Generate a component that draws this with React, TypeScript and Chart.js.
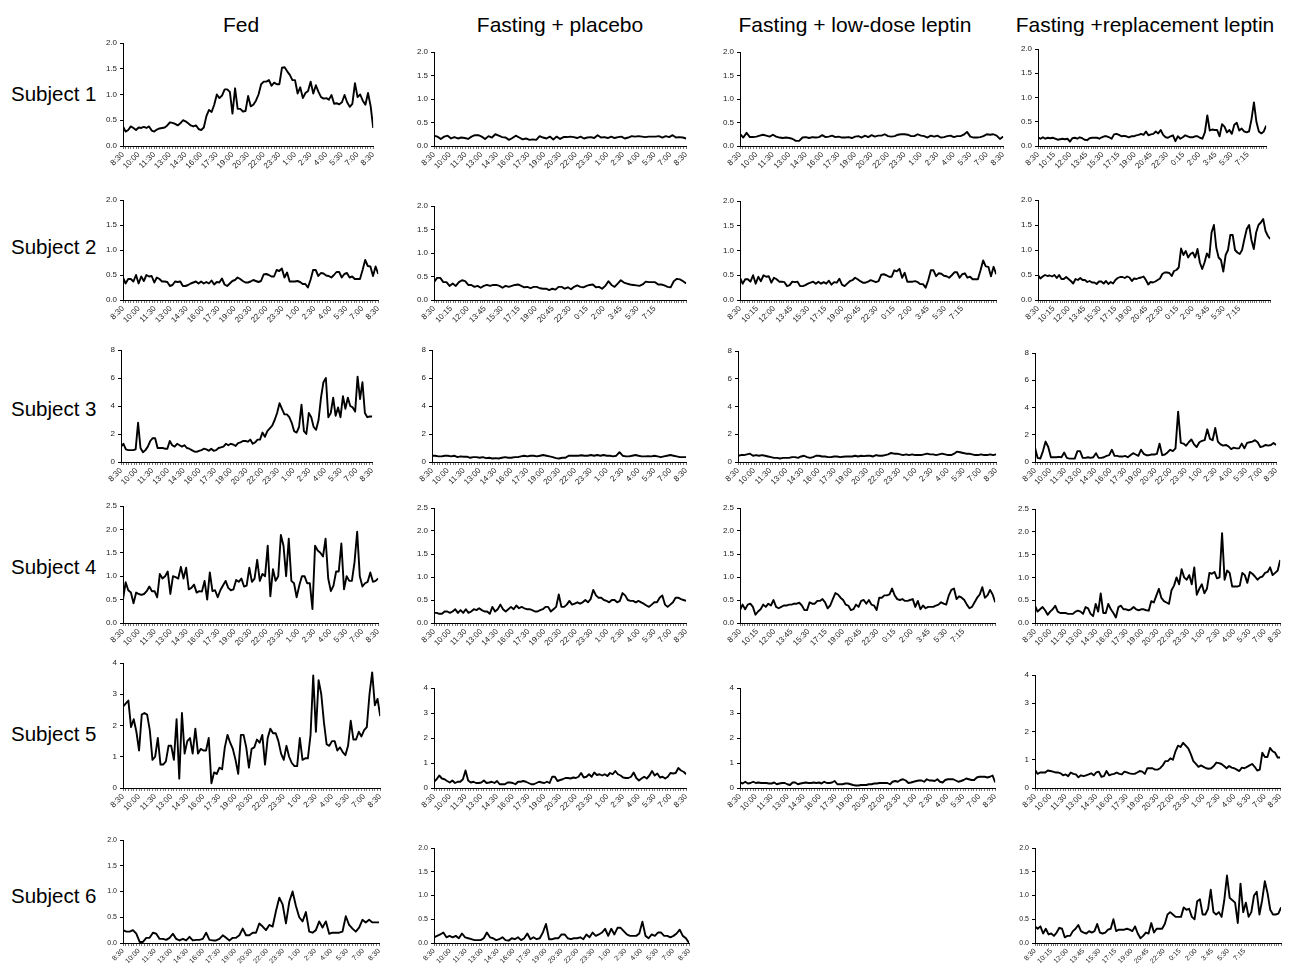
import React, { useEffect, useRef } from "react";
import { Chart, registerables } from "chart.js";
Chart.register(...registerables);

// ---- tick labels ----
const times90 = ["8:30","10:00","11:30","13:00","14:30","16:00","17:30","19:00","20:30","22:00","23:30","1:00","2:30","4:00","5:30","7:00","8:30"];
const times105 = ["8:30","10:15","12:00","13:45","15:30","17:15","19:00","20:45","22:30","0:15","2:00","3:45","5:30","7:15"];

const conditions = ["Fed", "Fasting + placebo", "Fasting + low-dose leptin", "Fasting +replacement leptin"];
const subjects = ["Subject 1", "Subject 2", "Subject 3", "Subject 4", "Subject 5", "Subject 6"];

// ---- series values ----
const s1Fed = [0.38,0.28,0.31,0.38,0.35,0.31, 0.36,0.35,0.37,0.35,0.38,0.30, 0.28,0.32,0.34,0.35,0.36,0.40, 0.46,0.45,0.43,0.40,0.44,0.50, 0.48,0.44,0.40,0.38,0.40,0.33, 0.31,0.36,0.58,0.70,0.66,0.80, 1.00,0.93,0.98,1.10,1.10,1.05, 0.63,1.12,0.72,0.72,0.67,0.68, 0.97,0.77,0.80,0.88,1.00,1.20, 1.25,1.25,1.28,1.17,1.23,1.20, 1.20,1.52,1.53,1.45,1.38,1.28, 1.28,1.02,1.14,0.93,1.03,1.07, 1.25,1.02,1.18,1.05,0.95,0.92, 0.93,0.90,0.99,0.82,0.83,0.81, 0.85,0.99,0.85,0.76,0.82,1.22, 0.95,1.00,0.88,0.80,1.03,0.78, 0.35];
const s1Placebo = [0.22,0.20,0.15,0.20,0.22,0.16,0.19,0.16,0.18,0.17,0.15,0.20,0.23,0.23,0.20,0.15,0.21,0.18,0.25,0.22,0.19,0.18,0.13,0.17,0.22,0.18,0.14,0.16,0.13,0.14,0.13,0.21,0.18,0.16,0.20,0.14,0.20,0.15,0.19,0.19,0.20,0.19,0.17,0.20,0.16,0.18,0.19,0.17,0.23,0.18,0.19,0.17,0.20,0.17,0.19,0.20,0.16,0.18,0.21,0.20,0.21,0.20,0.19,0.20,0.20,0.20,0.21,0.18,0.21,0.19,0.23,0.18,0.19,0.18,0.16];
const s1LowDose = [0.26,0.18,0.28,0.19,0.19,0.20,0.22,0.24,0.22,0.20,0.24,0.20,0.18,0.17,0.18,0.17,0.15,0.11,0.11,0.18,0.19,0.17,0.19,0.18,0.19,0.23,0.19,0.20,0.22,0.19,0.20,0.18,0.18,0.19,0.17,0.20,0.21,0.18,0.22,0.19,0.23,0.20,0.22,0.22,0.25,0.21,0.20,0.21,0.24,0.25,0.25,0.24,0.21,0.21,0.25,0.22,0.21,0.18,0.22,0.20,0.22,0.18,0.19,0.21,0.22,0.19,0.21,0.21,0.24,0.30,0.20,0.18,0.18,0.19,0.21,0.25,0.24,0.25,0.22,0.15,0.20];
const s1Replacement = [0.18,0.15,0.18,0.15,0.17,0.16,0.17,0.15,0.13,0.14,0.15,0.14,0.15,0.09,0.16,0.17,0.15,0.18,0.16,0.13,0.12,0.16,0.17,0.17,0.17,0.15,0.18,0.20,0.20,0.18,0.15,0.24,0.25,0.23,0.20,0.21,0.20,0.18,0.20,0.20,0.22,0.23,0.25,0.23,0.30,0.22,0.24,0.25,0.30,0.26,0.33,0.23,0.18,0.17,0.20,0.22,0.10,0.20,0.15,0.18,0.22,0.20,0.18,0.18,0.20,0.20,0.17,0.15,0.28,0.63,0.32,0.34,0.33,0.33,0.20,0.45,0.40,0.28,0.33,0.25,0.44,0.48,0.32,0.36,0.30,0.28,0.30,0.55,0.90,0.50,0.30,0.26,0.30,0.42];

const s2Fed = [0.45,0.33,0.42,0.42,0.37,0.50,0.33,0.47,0.38,0.50,0.47,0.48,0.35,0.45,0.42,0.37,0.37,0.36,0.28,0.30,0.37,0.36,0.37,0.28,0.28,0.30,0.33,0.35,0.37,0.33,0.37,0.33,0.36,0.33,0.39,0.31,0.36,0.35,0.43,0.31,0.28,0.33,0.38,0.40,0.45,0.42,0.38,0.35,0.35,0.37,0.40,0.38,0.36,0.38,0.51,0.52,0.50,0.47,0.47,0.60,0.58,0.63,0.45,0.55,0.37,0.37,0.37,0.38,0.36,0.32,0.32,0.25,0.40,0.60,0.60,0.48,0.54,0.53,0.49,0.48,0.45,0.50,0.56,0.56,0.45,0.52,0.54,0.45,0.47,0.42,0.42,0.42,0.60,0.80,0.68,0.67,0.48,0.67,0.52];
const s2Placebo = [0.38,0.47,0.47,0.38,0.38,0.30,0.35,0.30,0.38,0.42,0.40,0.32,0.32,0.28,0.30,0.26,0.30,0.32,0.30,0.32,0.32,0.30,0.26,0.30,0.28,0.30,0.32,0.33,0.30,0.27,0.28,0.25,0.28,0.28,0.25,0.24,0.24,0.21,0.24,0.22,0.28,0.28,0.24,0.27,0.23,0.28,0.31,0.28,0.27,0.30,0.32,0.33,0.27,0.28,0.24,0.30,0.40,0.32,0.28,0.35,0.42,0.37,0.35,0.33,0.32,0.31,0.30,0.33,0.39,0.38,0.38,0.38,0.33,0.33,0.31,0.28,0.27,0.40,0.45,0.44,0.40,0.35];
const s2LowDose = [0.45,0.33,0.42,0.42,0.37,0.50,0.33,0.47,0.38,0.50,0.47,0.48,0.35,0.45,0.42,0.37,0.37,0.36,0.28,0.30,0.37,0.36,0.37,0.28,0.28,0.30,0.33,0.35,0.37,0.33,0.37,0.33,0.36,0.33,0.39,0.31,0.36,0.35,0.43,0.31,0.28,0.33,0.38,0.40,0.45,0.42,0.38,0.35,0.35,0.37,0.40,0.38,0.36,0.38,0.51,0.52,0.50,0.47,0.47,0.60,0.58,0.63,0.45,0.55,0.37,0.37,0.37,0.38,0.36,0.32,0.32,0.25,0.40,0.60,0.60,0.48,0.54,0.53,0.49,0.48,0.45,0.50,0.56,0.56,0.45,0.52,0.54,0.45,0.47,0.42,0.42,0.42,0.60,0.80,0.68,0.67,0.48,0.67,0.52];
const s2Replacement = [0.50,0.43,0.47,0.50,0.48,0.49,0.47,0.50,0.44,0.50,0.42,0.42,0.46,0.42,0.38,0.33,0.42,0.40,0.44,0.40,0.40,0.36,0.38,0.35,0.35,0.32,0.37,0.37,0.33,0.38,0.32,0.36,0.33,0.40,0.44,0.46,0.46,0.44,0.47,0.45,0.38,0.43,0.42,0.44,0.45,0.47,0.40,0.31,0.36,0.35,0.37,0.40,0.43,0.52,0.55,0.55,0.54,0.48,0.58,0.60,0.65,1.03,0.90,0.98,0.85,0.92,0.95,0.85,1.02,0.75,0.62,0.75,0.93,0.85,1.35,1.50,1.05,0.85,0.80,0.57,0.90,1.00,1.30,1.30,1.00,0.95,0.92,1.00,1.22,1.42,1.50,1.20,1.02,1.35,1.50,1.55,1.62,1.38,1.28,1.22];

const s3Fed = [1.1,1.3,0.9,0.85,0.85,0.85,0.9,2.8,1.0,0.7,0.85,1.1,1.5,1.7,1.7,1.0,1.0,1.0,0.95,0.95,1.5,1.2,1.1,1.3,1.2,1.1,1.2,1.0,0.95,0.85,0.75,0.72,0.8,0.85,0.95,0.9,0.8,0.95,0.8,0.85,1.0,1.05,1.1,1.3,1.2,1.3,1.25,1.15,1.35,1.4,1.5,1.5,1.45,1.6,1.3,1.4,1.6,1.6,2.1,1.8,2.2,2.4,2.6,3.0,3.5,4.2,3.8,3.4,3.4,3.2,2.8,2.2,2.1,2.5,4.1,2.2,2.0,3.5,3.2,2.5,2.3,3.0,4.6,5.7,6.0,3.2,3.5,4.6,3.3,3.9,3.2,4.7,3.8,4.6,4.0,3.9,3.6,6.1,4.5,5.7,3.5,3.2,3.25,3.25];
const s3Placebo = [0.45,0.45,0.4,0.4,0.45,0.45,0.4,0.45,0.35,0.4,0.38,0.38,0.3,0.35,0.35,0.3,0.35,0.28,0.3,0.25,0.28,0.25,0.3,0.35,0.3,0.3,0.35,0.35,0.4,0.45,0.4,0.45,0.45,0.4,0.45,0.5,0.45,0.4,0.35,0.28,0.25,0.3,0.3,0.45,0.45,0.45,0.45,0.48,0.45,0.45,0.5,0.45,0.5,0.45,0.5,0.45,0.45,0.4,0.45,0.7,0.45,0.4,0.4,0.45,0.5,0.45,0.4,0.4,0.42,0.4,0.45,0.4,0.35,0.4,0.45,0.5,0.45,0.4,0.35,0.35,0.35];
const s3LowDose = [0.45,0.5,0.5,0.55,0.6,0.45,0.5,0.45,0.5,0.45,0.4,0.35,0.3,0.3,0.25,0.3,0.3,0.3,0.35,0.35,0.3,0.4,0.45,0.35,0.3,0.35,0.45,0.45,0.4,0.4,0.35,0.35,0.4,0.4,0.35,0.38,0.4,0.4,0.4,0.45,0.4,0.45,0.42,0.45,0.45,0.4,0.5,0.45,0.45,0.5,0.55,0.65,0.6,0.6,0.55,0.5,0.55,0.5,0.55,0.5,0.5,0.5,0.55,0.6,0.55,0.55,0.5,0.55,0.6,0.55,0.5,0.5,0.6,0.75,0.7,0.65,0.6,0.6,0.55,0.5,0.5,0.55,0.5,0.5,0.55,0.5,0.55];
const s3Replacement = [1.05,0.3,0.25,0.8,1.5,1.1,0.35,0.35,0.35,0.38,0.35,0.7,0.3,0.25,0.25,0.25,0.8,0.8,0.3,0.3,0.35,0.3,0.35,0.65,0.3,0.3,0.35,0.45,0.5,0.9,0.45,0.45,0.4,0.4,0.45,0.35,0.5,0.65,0.55,0.45,0.9,0.6,0.5,0.5,0.55,0.55,0.6,1.35,0.5,0.55,0.7,0.9,0.8,1.0,3.7,1.4,1.35,1.2,1.45,1.65,1.3,1.1,1.45,1.55,1.6,2.4,1.7,1.6,2.5,1.5,1.3,1.2,1.25,1.15,0.95,1.05,1.0,1.0,1.35,1.0,1.4,1.45,1.5,1.6,1.45,1.1,1.15,1.25,1.2,1.25,1.4,1.25];

const s4Fed = [0.5,0.87,0.7,0.65,0.42,0.65,0.62,0.6,0.62,0.68,0.78,0.68,0.68,0.55,1.05,0.95,1.0,1.1,0.62,1.0,0.98,0.95,1.2,0.95,1.18,0.72,0.75,0.82,0.65,0.68,0.67,0.9,0.5,1.08,0.68,0.7,0.55,0.7,0.8,0.9,0.75,0.7,0.72,0.92,0.88,0.95,0.78,0.8,1.18,0.88,0.95,1.35,0.9,1.05,1.0,1.65,0.57,1.15,0.9,1.0,1.88,1.65,1.0,1.8,0.9,0.85,0.55,0.8,1.0,1.0,0.85,0.85,0.3,1.65,1.55,1.5,1.42,1.8,0.95,0.68,0.8,1.1,1.1,1.7,0.72,1.0,0.9,0.9,1.3,1.95,1.0,0.78,0.85,0.88,1.08,0.88,0.9,0.95];
const s4Placebo = [0.22,0.22,0.2,0.2,0.25,0.25,0.22,0.25,0.3,0.22,0.28,0.22,0.3,0.22,0.25,0.3,0.28,0.32,0.28,0.25,0.25,0.2,0.35,0.25,0.3,0.4,0.3,0.25,0.3,0.35,0.3,0.38,0.32,0.35,0.32,0.3,0.3,0.28,0.25,0.25,0.28,0.3,0.35,0.35,0.25,0.3,0.35,0.62,0.35,0.35,0.4,0.48,0.4,0.42,0.45,0.42,0.45,0.5,0.45,0.52,0.72,0.6,0.55,0.55,0.5,0.48,0.45,0.5,0.5,0.45,0.48,0.65,0.6,0.5,0.48,0.48,0.45,0.48,0.45,0.42,0.38,0.35,0.4,0.45,0.45,0.55,0.6,0.4,0.35,0.4,0.45,0.55,0.55,0.52,0.5,0.48];
const s4LowDose = [0.28,0.4,0.3,0.4,0.42,0.35,0.18,0.25,0.3,0.4,0.35,0.42,0.38,0.5,0.35,0.32,0.35,0.38,0.38,0.4,0.4,0.42,0.42,0.44,0.38,0.28,0.28,0.45,0.42,0.42,0.48,0.48,0.52,0.45,0.32,0.38,0.52,0.65,0.62,0.55,0.5,0.4,0.38,0.28,0.3,0.4,0.35,0.48,0.5,0.42,0.5,0.4,0.38,0.28,0.55,0.55,0.6,0.6,0.62,0.75,0.6,0.52,0.5,0.52,0.48,0.48,0.5,0.52,0.35,0.48,0.3,0.38,0.32,0.35,0.35,0.35,0.38,0.4,0.45,0.42,0.4,0.6,0.72,0.75,0.52,0.58,0.55,0.5,0.4,0.32,0.35,0.45,0.55,0.62,0.78,0.55,0.6,0.72,0.62,0.45];
const s4Replacement = [0.38,0.25,0.3,0.35,0.28,0.18,0.25,0.3,0.38,0.25,0.22,0.22,0.22,0.2,0.2,0.2,0.25,0.27,0.25,0.2,0.35,0.32,0.2,0.15,0.42,0.25,0.65,0.22,0.22,0.42,0.3,0.22,0.12,0.35,0.38,0.3,0.3,0.28,0.3,0.35,0.3,0.28,0.3,0.3,0.28,0.27,0.48,0.45,0.6,0.75,0.55,0.48,0.45,0.42,0.72,0.82,1.0,0.85,1.18,1.0,0.95,1.05,0.85,1.22,0.62,0.75,0.85,0.65,0.75,1.1,1.08,1.12,0.98,1.0,1.97,0.95,1.15,1.1,0.8,0.8,0.8,0.82,1.1,1.05,0.88,1.12,1.08,1.02,0.95,1.0,1.02,1.1,1.12,1.22,1.05,1.1,1.15,1.38];

const s5Fed = [2.6,2.7,2.8,1.95,2.2,1.8,1.2,2.35,2.4,2.35,1.85,0.9,1.0,1.6,0.75,0.75,0.85,1.35,1.35,0.9,2.2,0.3,2.4,1.1,1.5,1.6,1.1,1.9,1.1,1.25,1.2,1.2,1.6,0.15,0.5,0.45,0.65,0.6,1.3,1.7,1.45,1.25,0.9,0.45,1.7,1.7,1.3,0.65,1.25,1.3,1.55,1.45,1.7,0.75,1.6,1.9,1.75,1.75,1.5,1.1,0.9,1.35,1.0,0.8,0.7,0.7,1.6,0.9,0.95,0.95,1.7,3.6,1.8,3.45,3.0,2.1,1.4,1.35,1.5,1.5,1.2,1.3,1.15,1.05,1.35,2.15,1.55,1.55,1.8,1.65,1.85,1.95,3.0,3.7,2.65,2.85,2.3];
const s5Placebo = [0.25,0.35,0.5,0.38,0.35,0.28,0.22,0.3,0.2,0.25,0.25,0.35,0.7,0.3,0.22,0.25,0.2,0.2,0.22,0.3,0.2,0.22,0.25,0.2,0.28,0.15,0.15,0.15,0.22,0.22,0.2,0.15,0.25,0.25,0.28,0.25,0.2,0.15,0.15,0.2,0.25,0.22,0.2,0.25,0.2,0.45,0.45,0.28,0.32,0.35,0.4,0.4,0.38,0.42,0.4,0.45,0.6,0.42,0.45,0.55,0.45,0.62,0.52,0.55,0.5,0.55,0.48,0.6,0.55,0.68,0.55,0.5,0.42,0.4,0.4,0.45,0.62,0.4,0.3,0.38,0.45,0.38,0.5,0.68,0.5,0.58,0.42,0.45,0.38,0.45,0.6,0.58,0.6,0.8,0.7,0.65,0.55];
const s5LowDose = [0.22,0.18,0.25,0.18,0.2,0.25,0.2,0.22,0.2,0.2,0.2,0.18,0.18,0.22,0.15,0.18,0.2,0.2,0.15,0.12,0.22,0.22,0.15,0.18,0.2,0.22,0.2,0.2,0.22,0.2,0.22,0.18,0.25,0.2,0.2,0.22,0.28,0.15,0.15,0.15,0.18,0.18,0.15,0.12,0.1,0.1,0.12,0.12,0.12,0.15,0.15,0.18,0.18,0.2,0.2,0.2,0.2,0.15,0.25,0.28,0.25,0.32,0.35,0.3,0.2,0.22,0.25,0.28,0.3,0.3,0.25,0.35,0.3,0.3,0.28,0.35,0.25,0.22,0.32,0.35,0.35,0.35,0.3,0.25,0.28,0.32,0.38,0.35,0.32,0.32,0.42,0.45,0.45,0.45,0.42,0.45,0.5,0.22];
const s5Replacement = [0.65,0.5,0.55,0.55,0.55,0.62,0.6,0.58,0.55,0.55,0.52,0.45,0.48,0.42,0.55,0.5,0.48,0.38,0.45,0.42,0.45,0.48,0.52,0.45,0.55,0.58,0.4,0.42,0.6,0.45,0.48,0.5,0.55,0.5,0.48,0.58,0.55,0.52,0.5,0.5,0.55,0.6,0.58,0.5,0.7,0.7,0.7,0.65,0.65,0.7,0.8,0.95,0.95,1.05,1.0,1.3,1.5,1.45,1.6,1.5,1.4,1.2,0.95,0.85,0.75,0.8,0.75,0.7,0.68,0.7,0.78,0.9,0.88,0.85,0.78,0.7,0.78,0.72,0.7,0.65,0.6,0.72,0.7,0.75,0.8,0.85,0.75,0.62,0.65,1.25,1.1,1.1,1.42,1.3,1.25,1.08,1.08];

const s6Fed = [0.25,0.22,0.22,0.25,0.18,0.02,0.02,0.1,0.1,0.2,0.18,0.08,0.08,0.06,0.1,0.18,0.08,0.05,0.08,0.05,0.12,0.05,0.06,0.06,0.08,0.2,0.06,0.05,0.05,0.08,0.15,0.1,0.05,0.1,0.1,0.15,0.28,0.15,0.15,0.2,0.2,0.38,0.32,0.25,0.35,0.32,0.62,0.88,0.75,0.38,0.8,1.0,0.72,0.5,0.42,0.6,0.22,0.2,0.25,0.42,0.3,0.42,0.18,0.2,0.2,0.2,0.22,0.52,0.35,0.28,0.22,0.3,0.45,0.4,0.45,0.4,0.4,0.4];
const s6Placebo = [0.12,0.15,0.18,0.22,0.12,0.15,0.12,0.15,0.1,0.2,0.12,0.1,0.08,0.06,0.06,0.06,0.1,0.22,0.12,0.1,0.06,0.08,0.12,0.06,0.05,0.1,0.08,0.12,0.06,0.1,0.2,0.08,0.12,0.08,0.1,0.22,0.4,0.08,0.08,0.1,0.1,0.18,0.18,0.1,0.08,0.1,0.1,0.12,0.08,0.18,0.12,0.22,0.15,0.18,0.22,0.3,0.15,0.3,0.18,0.32,0.32,0.25,0.18,0.15,0.15,0.15,0.2,0.45,0.15,0.1,0.18,0.15,0.22,0.22,0.15,0.15,0.12,0.15,0.2,0.28,0.15,0.1,0.0];
const s6Replacement = [0.35,0.3,0.35,0.2,0.3,0.18,0.2,0.15,0.22,0.32,0.3,0.12,0.15,0.15,0.25,0.3,0.38,0.25,0.22,0.2,0.25,0.22,0.25,0.4,0.22,0.2,0.22,0.28,0.3,0.5,0.25,0.28,0.28,0.28,0.3,0.28,0.25,0.35,0.2,0.1,0.15,0.22,0.2,0.42,0.22,0.3,0.3,0.3,0.4,0.6,0.65,0.6,0.55,0.55,0.55,0.75,0.7,0.72,0.55,0.5,0.88,0.92,0.6,0.6,0.72,1.12,0.65,0.6,0.65,0.55,0.9,1.42,0.95,0.9,0.85,0.42,1.25,0.65,0.85,0.55,0.65,1.0,1.08,0.6,0.9,1.3,1.05,0.7,0.6,0.6,0.62,0.75];

// ---- axis setups ----
const Y2 = { max: 2, step: 0.5, dec: 1 };
const Y25 = { max: 2.5, step: 0.5, dec: 1 };
const Y4 = { max: 4, step: 1, dec: 0 };
const Y8 = { max: 8, step: 2, dec: 0 };
const X90 = { labels: times90, every: 90 };
const X105 = { labels: times105, every: 105 };

type PanelDef = {
  values: number[]; y: any; x: any; xMax: number;
  left: number; right: number; top: number; bottom: number; font?: number;
};

const panels: PanelDef[] = [
  { values: s1Fed, y: Y2, x: X90, xMax: 1440, left: 123, right: 375, top: 43, bottom: 146 },
  { values: s1Placebo, y: Y2, x: X90, xMax: 1440, left: 434, right: 688, top: 52, bottom: 146 },
  { values: s1LowDose, y: Y2, x: X90, xMax: 1440, left: 740, right: 1005, top: 52, bottom: 146 },
  { values: s1Replacement, y: Y2, x: X105, xMax: 1485, left: 1038, right: 1268, top: 49, bottom: 146 },

  { values: s2Fed, y: Y2, x: X90, xMax: 1440, left: 123, right: 380, top: 200, bottom: 300 },
  { values: s2Placebo, y: Y2, x: X105, xMax: 1560, left: 434, right: 688, top: 206, bottom: 300 },
  { values: s2LowDose, y: Y2, x: X105, xMax: 1575, left: 740, right: 998, top: 201, bottom: 300 },
  { values: s2Replacement, y: Y2, x: X105, xMax: 1575, left: 1038, right: 1272, top: 200, bottom: 300 },

  { values: s3Fed, y: Y8, x: X90, xMax: 1440, left: 121, right: 374, top: 350, bottom: 462 },
  { values: s3Placebo, y: Y8, x: X90, xMax: 1440, left: 432, right: 688, top: 350, bottom: 462 },
  { values: s3LowDose, y: Y8, x: X90, xMax: 1440, left: 738, right: 998, top: 351, bottom: 462 },
  { values: s3Replacement, y: Y8, x: X90, xMax: 1440, left: 1035, right: 1278, top: 353, bottom: 462 },

  { values: s4Fed, y: Y25, x: X90, xMax: 1440, left: 123, right: 380, top: 506, bottom: 623 },
  { values: s4Placebo, y: Y25, x: X90, xMax: 1440, left: 434, right: 688, top: 508, bottom: 623 },
  { values: s4LowDose, y: Y25, x: X105, xMax: 1560, left: 740, right: 997, top: 508, bottom: 623 },
  { values: s4Replacement, y: Y25, x: X90, xMax: 1440, left: 1035, right: 1282, top: 509, bottom: 623 },

  { values: s5Fed, y: Y4, x: X90, xMax: 1440, left: 123, right: 382, top: 663, bottom: 788 },
  { values: s5Placebo, y: Y4, x: X90, xMax: 1440, left: 434, right: 688, top: 688, bottom: 788 },
  { values: s5LowDose, y: Y4, x: X90, xMax: 1440, left: 740, right: 997, top: 688, bottom: 788 },
  { values: s5Replacement, y: Y4, x: X90, xMax: 1440, left: 1035, right: 1282, top: 675, bottom: 788 },

  { values: s6Fed, y: Y2, x: X90, xMax: 1440, left: 123, right: 380, top: 840, bottom: 943, font: 7 },
  { values: s6Placebo, y: Y2, x: X90, xMax: 1440, left: 434, right: 690, top: 848, bottom: 943, font: 7 },
  { values: s6Replacement, y: Y2, x: X105, xMax: 1605, left: 1035, right: 1282, top: 848, bottom: 943, font: 7 },
];

const titleCenters = [241, 560, 855, 1145];
const subjectCenters = [94, 247, 409, 567, 734, 896];

const YW = 30, XH = 42, PT = 8, PR = 6;
const FONT = "'Liberation Sans', Arial, Helvetica, sans-serif";

function Panel({ p }: { p: PanelDef }) {
  const ref = useRef<HTMLCanvasElement>(null);
  const w = p.right - p.left + YW + PR;
  const h = p.bottom - p.top + PT + XH;
  useEffect(() => {
    const n = p.values.length;
    const pts = p.values.map((v, i) => ({ x: (i * p.xMax) / (n - 1), y: v }));
    const fs = p.font || 8;
    const chart = new Chart(ref.current as HTMLCanvasElement, {
      type: "line",
      data: {
        datasets: [{
          data: pts, borderColor: "#000", borderWidth: 1.9, pointRadius: 0,
          tension: 0, fill: false, borderJoinStyle: "round" as any,
        }],
      },
      options: {
        responsive: false, animation: false, events: [],
        layout: { padding: { top: PT, right: PR, left: 0, bottom: 0 } },
        plugins: { legend: { display: false }, tooltip: { enabled: false } },
        scales: {
          x: {
            type: "linear", min: 0, max: p.xMax,
            afterFit: (s: any) => { s.height = XH; },
            grid: { display: true, drawOnChartArea: false, drawTicks: true, tickLength: 3, color: "#777", lineWidth: 1 },
            border: { display: true, color: "#000", width: 1 },
            ticks: {
              stepSize: 15, autoSkip: false, minRotation: 45, maxRotation: 45, padding: 1,
              color: "#222", font: { family: FONT, size: fs },
              callback: (v: any) => {
                const val = Math.round(Number(v));
                if (val % p.x.every !== 0) return "";
                const i = val / p.x.every;
                return i < p.x.labels.length ? p.x.labels[i] : "";
              },
            },
          },
          y: {
            type: "linear", min: 0, max: p.y.max,
            afterFit: (s: any) => { s.width = YW; },
            grid: { display: true, drawOnChartArea: false, drawTicks: true, tickLength: 3, color: "#000", lineWidth: 1 },
            border: { display: true, color: "#000", width: 1 },
            ticks: {
              stepSize: p.y.step, padding: 3, color: "#222", font: { family: FONT, size: fs },
              callback: (v: any) => Number(v).toFixed(p.y.dec),
            },
          },
        },
      } as any,
    });
    return () => chart.destroy();
  }, []);
  return (
    <canvas ref={ref} width={w} height={h}
      style={{ position: "absolute", left: p.left - YW, top: p.top - PT, width: w, height: h }} />
  );
}

export default function App() {
  return (
    <div style={{ position: "absolute", left: 0, top: 0, width: 1292, height: 969, background: "#fff", fontFamily: FONT }}>
      {conditions.map((c, i) => (
        <div key={c} style={{
          position: "absolute", left: titleCenters[i] - 200, width: 400, top: 25 - 12,
          textAlign: "center", fontSize: 21, lineHeight: "24px", color: "#000", whiteSpace: "nowrap",
        }}>{c}</div>
      ))}
      {subjects.map((s, i) => (
        <div key={s} style={{
          position: "absolute", left: 11, top: subjectCenters[i] - 12,
          fontSize: 20.5, lineHeight: "24px", color: "#000", whiteSpace: "nowrap",
        }}>{s}</div>
      ))}
      {panels.map((p, i) => <Panel key={i} p={p} />)}
    </div>
  );
}
